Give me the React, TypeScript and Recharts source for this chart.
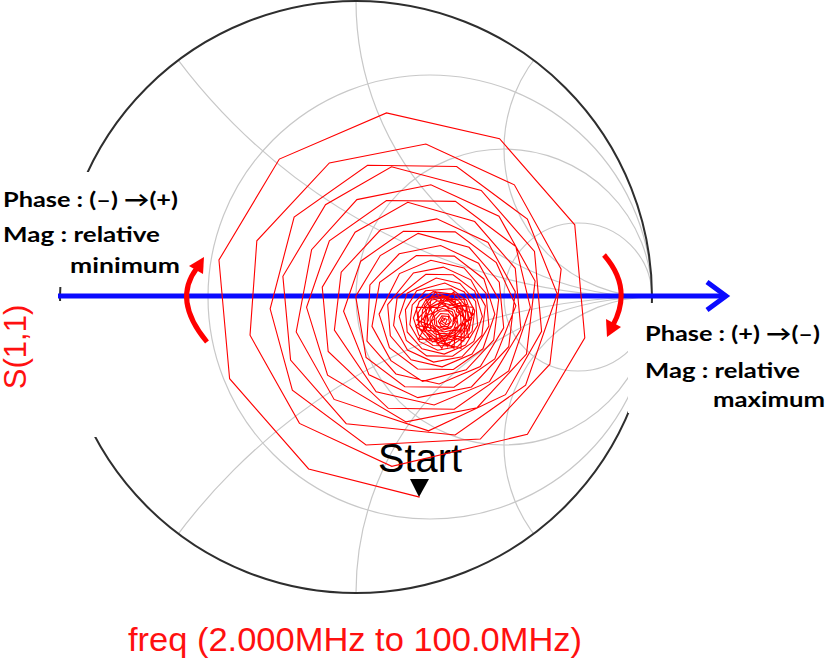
import React from 'react';
import { ComposedChart, Line, XAxis, YAxis, Customized } from 'recharts';

// ---------- data: S(1,1) trace (reflection coefficient, real / imaginary), freq 2 MHz -> 100 MHz ----------
const s11Outer: [number, number][] = [
  [0.215, -0.676], [-0.160, -0.581], [-0.427, -0.276], [-0.463, 0.125], [-0.259, 0.466], [0.103, 0.622], [0.485, 0.535], [0.739, 0.244], [0.773, -0.138], [0.579, -0.464],
  [0.121, -0.572], [-0.191, -0.427], [-0.358, -0.129], [-0.335, 0.190], [-0.090, 0.453], [0.236, 0.517], [0.535, 0.379], [0.693, 0.094], [0.655, -0.227], [0.420, -0.480],
  [0.034, -0.500], [-0.215, -0.315], [-0.290, -0.040], [-0.209, 0.270], [0.039, 0.445], [0.340, 0.441], [0.579, 0.263], [0.680, 0.010], [0.573, -0.298], [0.335, -0.466],
  [-0.033, -0.428], [-0.221, -0.213], [-0.247, 0.070], [-0.103, 0.312], [0.120, 0.440], [0.423, 0.360], [0.603, 0.154], [0.627, -0.116], [0.505, -0.330], [0.245, -0.452],
  [-0.074, -0.346], [-0.202, -0.118], [-0.150, 0.160], [0.003, 0.329], [0.253, 0.379], [0.483, 0.273], [0.605, 0.054], [0.576, -0.193], [0.409, -0.374], [0.169, -0.422],
  [-0.096, -0.264], [-0.167, -0.035], [-0.090, 0.190], [0.103, 0.326], [0.336, 0.323], [0.540, 0.170], [0.589, -0.035], [0.516, -0.250], [0.332, -0.379], [0.109, -0.376],
  [-0.094, -0.184], [-0.114, 0.033], [-0.003, 0.219], [0.175, 0.320], [0.401, 0.255], [0.538, 0.097], [0.557, -0.109], [0.451, -0.286], [0.264, -0.365], [0.068, -0.320],
  [-0.073, -0.112], [-0.050, 0.084], [0.083, 0.227], [0.273, 0.264], [0.446, 0.184], [0.538, 0.018], [0.516, -0.168], [0.390, -0.304], [0.209, -0.340], [0.044, -0.263],
];

const s11Middle: [number, number][] = [
  [-0.042, -0.048], [0.016, 0.121], [0.160, 0.222], [0.335, 0.220], [0.474, 0.116], [0.540, -0.030], [0.469, -0.209], [0.331, -0.305], [0.165, -0.303], [0.034, -0.204],
  [-0.001, 0.002], [0.082, 0.140], [0.210, 0.215], [0.382, 0.168], [0.484, 0.050], [0.499, -0.104], [0.420, -0.235], [0.281, -0.294], [0.135, -0.260], [0.037, -0.149],
  [0.047, 0.041], [0.146, 0.146], [0.286, 0.174], [0.414, 0.114], [0.482, -0.008], [0.465, -0.146], [0.372, -0.246], [0.225, -0.285], [0.118, -0.215], [0.054, -0.099],
  [0.080, 0.050], [0.204, 0.140], [0.332, 0.138], [0.432, 0.061], [0.469, -0.058], [0.429, -0.175], [0.329, -0.245], [0.208, -0.243], [0.113, -0.171], [0.078, -0.058],
  [0.147, 0.079], [0.253, 0.124], [0.365, 0.098], [0.439, 0.013], [0.449, -0.098], [0.392, -0.193], [0.291, -0.236], [0.186, -0.212], [0.116, -0.131], [0.107, -0.026],
  [0.194, 0.081], [0.295, 0.101], [0.388, 0.058], [0.437, -0.030], [0.425, -0.130], [0.358, -0.202], [0.262, -0.220], [0.174, -0.179], [0.127, -0.096], [0.139, -0.002],
  [0.236, 0.077], [0.328, 0.075], [0.401, 0.020], [0.427, -0.066], [0.398, -0.150], [0.326, -0.200], [0.239, -0.199], [0.170, -0.147], [0.146, -0.066], [0.173, 0.013],
  [0.271, 0.064], [0.351, 0.046], [0.404, -0.015], [0.411, -0.095], [0.370, -0.162], [0.298, -0.193], [0.223, -0.175], [0.173, -0.118], [0.167, -0.043], [0.205, 0.021],
];

const s11Inner: [number, number][] = [
  [0.300, 0.047], [0.366, 0.017], [0.401, -0.046], [0.392, -0.116], [0.344, -0.167], [0.276, -0.180], [0.215, -0.151], [0.182, -0.093], [0.190, -0.027], [0.235, 0.021],
  [0.322, 0.028], [0.373, -0.011], [0.392, -0.071], [0.371, -0.130], [0.321, -0.165], [0.260, -0.164], [0.212, -0.128], [0.194, -0.071], [0.214, -0.015], [0.261, 0.018],
  [0.338, 0.008], [0.375, -0.035], [0.380, -0.091], [0.351, -0.138], [0.301, -0.159], [0.249, -0.147], [0.214, -0.107], [0.210, -0.054], [0.236, -0.010], [0.283, 0.010],
  [0.347, -0.013], [0.371, -0.056], [0.365, -0.105], [0.332, -0.141], [0.285, -0.150], [0.242, -0.129], [0.220, -0.089], [0.225, -0.043], [0.256, -0.010], [0.301, -0.001],
  [0.351, -0.032], [0.364, -0.074], [0.350, -0.115], [0.315, -0.139], [0.273, -0.138], [0.240, -0.113], [0.228, -0.074], [0.242, -0.036], [0.274, -0.013], [0.313, -0.014],
  [0.352, -0.049], [0.355, -0.087], [0.335, -0.119], [0.301, -0.133], [0.266, -0.124], [0.242, -0.098], [0.239, -0.062], [0.258, -0.032], [0.289, -0.019], [0.322, -0.027],
];

const s11Tail: [number, number][] = [
  [0.398, -0.057], [0.355, -0.102], [0.355, -0.173], [0.292, -0.158], [0.273, -0.108], [0.212, -0.097], [0.204, -0.035], [0.275, -0.035], [0.307, -0.008], [0.364, -0.007],
  [0.385, -0.078], [0.336, -0.104], [0.331, -0.173], [0.280, -0.140], [0.211, -0.143], [0.245, -0.078], [0.231, -0.028], [0.269, 0.017], [0.312, -0.040], [0.373, -0.025],
  [0.368, -0.093], [0.364, -0.149], [0.305, -0.128], [0.258, -0.152], [0.231, -0.109], [0.266, -0.071], [0.236, -0.007], [0.292, 0.002], [0.330, -0.026], [0.396, -0.035],
  [0.382, -0.115], [0.320, -0.113], [0.290, -0.173], [0.253, -0.130], [0.202, -0.099], [0.245, -0.054], [0.255, 0.000], [0.305, -0.033], [0.354, -0.019], [0.364, -0.064],
  [0.381, -0.137], [0.317, -0.130], [0.274, -0.159], [0.268, -0.102], [0.205, -0.078], [0.243, -0.037], [0.281, -0.021], [0.331, 0.017], [0.340, -0.049], [0.375, -0.078],
  [0.340, -0.123], [0.309, -0.168], [0.278, -0.117], [0.227, -0.111], [0.236, -0.064], [0.273, -0.048], [0.291, 0.007], [0.335, -0.017], [0.350, -0.056], [0.329, -0.084],
];

const s11Center: [number, number][] = [
  [0.340, -0.060], [0.345, -0.100], [0.318, -0.125], [0.280, -0.122], [0.252, -0.100], [0.250, -0.070], [0.268, -0.040], [0.300, -0.030], [0.332, -0.045], [0.342, -0.078],
  [0.330, -0.110], [0.298, -0.118], [0.265, -0.108], [0.255, -0.080], [0.265, -0.052], [0.292, -0.038], [0.325, -0.050], [0.336, -0.082], [0.320, -0.106], [0.290, -0.112],
  [0.266, -0.094], [0.264, -0.066], [0.282, -0.048], [0.310, -0.046], [0.330, -0.068], [0.326, -0.098], [0.300, -0.108], [0.274, -0.098], [0.270, -0.074], [0.286, -0.056],
  [0.312, -0.058], [0.322, -0.080], [0.310, -0.100], [0.288, -0.100], [0.278, -0.082], [0.290, -0.064], [0.312, -0.066], [0.316, -0.088], [0.298, -0.096], [0.284, -0.086],
  [0.292, -0.070], [0.308, -0.076], [0.302, -0.090], [0.290, -0.082], [0.300, -0.074], [0.298, -0.080],
];

// Smith chart grid values
const resistanceCircles = [1 / 3, 1, 3];
const reactanceArcs = [0.5, 1, 2];

const leftNote = ['Phase : (\u2013) \u2192(+)', 'Mag : relative', 'minimum'];
const rightNote = ['Phase : (+) \u2192(\u2013)', 'Mag : relative', 'maximum'];
const yLabel = 'S(1,1)';
const xLabel = 'freq (2.000MHz to 100.0MHz)';
const startLabel = 'Start';

// ---------- layout ----------
const W = 827;
const H = 659;
const CX = 356;
const CY = 297;
const RAD = 296;
const MARGIN = { top: CY - RAD, right: W - (CX + RAD), bottom: H - (CY + RAD), left: CX - RAD };

const toPx = (re: number) => CX + RAD * re;
const toPy = (im: number) => CY - RAD * im;

const spiral = [...s11Outer, ...s11Middle, ...s11Inner, ...s11Tail, ...s11Center].map(([re, im]) => ({ re, im }));

function SmithGrid() {
  const xs = reactanceArcs.flatMap((x) => [x, -x]);
  return (
    <g>
      <defs>
        <clipPath id="unitClip">
          <circle cx={CX} cy={CY} r={RAD} />
        </clipPath>
      </defs>
      <g clipPath="url(#unitClip)" fill="none" stroke="#c8c8c8" strokeWidth={1.2}>
        {resistanceCircles.map((r) => (
          <circle key={'r' + r} cx={toPx(r / (1 + r))} cy={CY} r={RAD / (1 + r)} />
        ))}
        {xs.map((x) => (
          <circle key={'x' + x} cx={toPx(1)} cy={toPy(1 / x)} r={RAD / Math.abs(x)} />
        ))}
      </g>
    </g>
  );
}

const boldFont = 'Lato, "Open Sans", sans-serif';
const arialFont = '"Liberation Sans", Arial, sans-serif';

function Annotations() {
  return (
    <g>
      <circle cx={CX} cy={CY} r={RAD} fill="none" stroke="#2e2e2e" strokeWidth={2} />
      {/* label backgrounds */}
      <rect x={0} y={172} width={186} height={115} fill="#fff" />
      <rect x={0} y={301} width={100} height={136} fill="#fff" />
      <rect x={628} y={303} width={199} height={110} fill="#fff" />

      {/* blue axis arrow */}
      <line x1={58} y1={296} x2={724} y2={296} stroke="#0a0aff" strokeWidth={5} />
      <polyline points="707,282 726,296 707,310" fill="none" stroke="#0a0aff" strokeWidth={5} />

      {/* red rotation arrows */}
      <path d="M 207 342 Q 172 300 197 268" stroke="#ff0000" strokeWidth={5} fill="none" />
      <polygon points="204,257 203,274 189,266" fill="#ff0000" />
      <path d="M 604 255 Q 633 288 613 325" stroke="#ff0000" strokeWidth={5} fill="none" />
      <polygon points="607,337 621,327 606,319" fill="#ff0000" />

      {/* notes */}
      <g fontFamily={boldFont} fontWeight="bold" fontSize={21} fill="#000">
        <text x={3} y={207} textLength={175} lengthAdjust="spacingAndGlyphs">{leftNote[0]}</text>
        <text x={3} y={242} textLength={157} lengthAdjust="spacingAndGlyphs">{leftNote[1]}</text>
        <text x={70} y={273} textLength={110} lengthAdjust="spacingAndGlyphs">{leftNote[2]}</text>
        <text x={645} y={341} textLength={175} lengthAdjust="spacingAndGlyphs">{rightNote[0]}</text>
        <text x={645} y={378} textLength={155} lengthAdjust="spacingAndGlyphs">{rightNote[1]}</text>
        <text x={713} y={407} textLength={112} lengthAdjust="spacingAndGlyphs">{rightNote[2]}</text>
      </g>

      {/* start marker */}
      <text x={378} y={472} fontFamily={arialFont} fontSize={40} fill="#000" textLength={84} lengthAdjust="spacingAndGlyphs">
        {startLabel}
      </text>
      <polygon points="410,479 429,479 419,497" fill="#000" />

      {/* axis titles */}
      <g transform="translate(26,347) rotate(-90)">
        <text x={0} y={0} textAnchor="middle" fontFamily={arialFont} fontSize={31} fill="#ff1010">
          {yLabel}
        </text>
      </g>
      <text x={128} y={651} fontFamily={arialFont} fontSize={33} fill="#ff1010" textLength={454} lengthAdjust="spacingAndGlyphs">
        {xLabel}
      </text>
    </g>
  );
}

export default function App() {
  return (
    <div style={{ position: 'absolute', left: 0, top: 0, width: W, height: H, background: '#fff' }}>
      <ComposedChart width={W} height={H} data={spiral} margin={MARGIN}>
        <XAxis type="number" dataKey="re" domain={[-1, 1]} hide allowDataOverflow />
        <YAxis type="number" domain={[-1, 1]} hide allowDataOverflow />
        <Customized component={SmithGrid} />
        <Line
          type="linear"
          dataKey="im"
          stroke="#ff0000"
          strokeWidth={1.1}
          dot={false}
          activeDot={false}
          isAnimationActive={false}
        />
        <Customized component={Annotations} />
      </ComposedChart>
    </div>
  );
}
